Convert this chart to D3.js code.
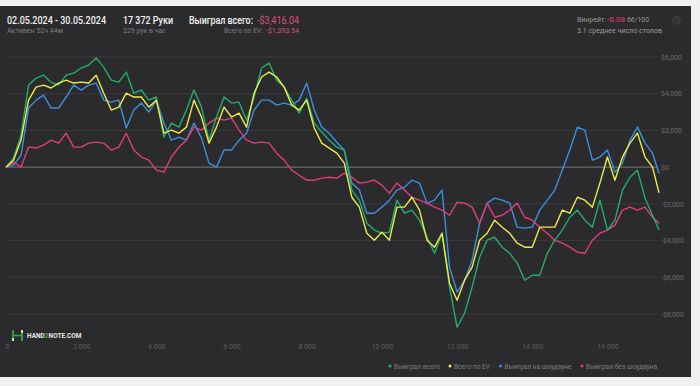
<!DOCTYPE html>
<html>
<head>
<meta charset="utf-8">
<script src="https://cdn.jsdelivr.net/npm/d3@7"></script>
<style>
  html, body { margin: 0; padding: 0; background: #f0f0f2; }
  svg { display: block; font-family: Roboto, "Noto Sans", sans-serif; }
</style>
</head>
<body>
<div id="chart"></div>
<script>
// hands sampled every 200, last point = total hands
const totalHands = 17372;
const hands = d3.range(0, 17201, 200).concat([totalHands]);

// Выиграл всего
const wonTotal = [0,490,1740,4470,4850,5010,4630,4470,5010,5120,
  5400,5560,5940,5450,4740,4630,5180,4030,4200,3650,
  3820,1640,2400,2180,3110,4200,3270,1470,2730,3820,
  3490,3540,2560,3820,5400,5670,4740,4360,3650,2940,
  3760,2400,1910,1470,1090,930,-1250,-1800,-3050,-3430,
  -3600,-3540,-1800,-2510,-2340,-2890,-3820,-4690,-3600,-6540,
  -8720,-7960,-6540,-4910,-3980,-3820,-4360,-4690,-5230,-6160,
  -5890,-5890,-4690,-3980,-3430,-2730,-2340,-2890,-3270,-1800,
  -3430,-2890,-1250,-550,-160,-1690,-2620,-3416];

// Всего по EV
const allInEv = [0,380,1470,3650,4360,4470,4310,4580,4740,4580,
  4630,4580,5010,4030,3110,3270,4030,3820,3820,3270,
  3650,1850,2020,1850,2180,3650,2730,1310,2180,3270,
  2730,2940,2180,4030,4910,5180,4910,4360,3380,3110,
  3650,2130,1310,1040,760,220,-1640,-2180,-3600,-3980,
  -3540,-3980,-2180,-2180,-1640,-2340,-3980,-4360,-3600,-6320,
  -7250,-6160,-5450,-3980,-3600,-2890,-3270,-3600,-4140,-4360,
  -4360,-3270,-3270,-3270,-2340,-2510,-1640,-1800,-2180,-870,
  550,-710,550,1310,1850,550,0,-1394];

// Выиграл на шоудауне
const wonShowdown = [0,110,650,3220,3650,3920,3220,3220,3820,4470,
  4200,4470,4580,3650,3540,3650,2130,3110,3490,3000,
  3650,2400,1470,1640,1470,2400,1580,220,0,930,
  930,1470,1850,3110,3650,3650,3380,3490,3380,3650,
  4580,3110,2180,1850,1360,930,-870,-1250,-2510,-2510,
  -2180,-1800,-1250,-1090,-710,-870,-1960,-1800,-1250,-5450,
  -6810,-6160,-5070,-3050,-1960,-1690,-1800,-1960,-3270,-3320,
  -3270,-2340,-1800,-1250,-160,930,2180,2020,380,550,
  930,-270,220,1470,2180,1310,760,-330];

// Выиграл без шоудауна
const wonNoShowdown = [0,270,0,1090,1040,1200,1470,1310,1850,1090,
  1090,1310,1360,1310,930,1090,1850,930,550,380,
  -160,-270,550,1090,1470,2180,2020,2400,2670,2560,
  2670,2020,1470,1310,1360,1310,760,380,-160,-440,
  -710,-710,-600,-550,-600,-330,-550,-870,-820,-710,
  -980,-1420,-870,-1250,-1640,-1800,-1960,-2180,-2340,-2620,
  -1910,-1960,-2180,-3050,-1960,-2730,-2620,-2340,-1960,-2730,
  -2890,-3270,-3600,-3980,-4140,-4360,-4630,-4690,-3980,-3600,
  -3430,-3160,-2340,-2180,-2340,-2180,-2730,-3050];

const seriesNames = ["Выиграл всего", "Всего по EV", "Выиграл на шоудауне", "Выиграл без шоудауна"];
const seriesColors = ["#23ad6c", "#ecec48", "#3c8fdc", "#dc3f78"];
const seriesValues = [wonTotal, allInEv, wonShowdown, wonNoShowdown];

const yTicks = [6000, 4000, 2000, 0, -2000, -4000, -6000, -8000];
const xTicks = [0, 2000, 4000, 6000, 8000, 10000, 12000, 14000, 16000];

const W = 700, H = 386;
const svg = d3.select("#chart").append("svg").attr("width", W).attr("height", H);

// card
svg.append("rect").attr("x", 0).attr("y", 6).attr("width", 691).attr("height", 371).attr("fill", "#2b2b2d");

let x = d3.scaleLinear().domain([0, totalHands]).range([6, 659]);
let y = d3.scaleLinear().domain([-8000, 6000]).range([314, 57]);

// grid
svg.append("g").selectAll("line").data(yTicks).join("line")
  .attr("x1", 7).attr("x2", 658)
  .attr("y1", d => y(d)).attr("y2", d => y(d))
  .attr("stroke", d => d === 0 ? "#6a6a6c" : "#3c3c3f")
  .attr("stroke-width", d => d === 0 ? 1.2 : 1);

// y axis labels
const fmtMoney = d => (d < 0 ? "-$" : "$") + d3.format(",")(Math.abs(d));
const yAxis = svg.append("g").attr("transform", "translate(657,0)")
  .call(d3.axisRight(y).tickValues(yTicks).tickSize(0).tickPadding(4).tickFormat(fmtMoney));
yAxis.select(".domain").remove();
yAxis.selectAll("text").attr("fill", "#6c6c6e").style("font-size", "7px").style("font-family", "Roboto");

// x axis labels
const xAxis = svg.append("g").attr("transform", "translate(0,344)")
  .call(d3.axisBottom(x).tickValues(xTicks).tickSize(0).tickPadding(0)
    .tickFormat(d => d3.format(",")(d).replace(/,/g, " ")));
xAxis.select(".domain").remove();
xAxis.selectAll("text").attr("fill", "#5e5e60").style("font-size", "7px").style("font-family", "Roboto");
xAxis.selectAll(".tick").filter(d => d === 0).select("text").attr("text-anchor", "start").attr("x", -1);

// lines
const line = d3.line().x((d, i) => x(hands[i])).y(d => y(d));
const drawOrder = [2, 3, 0, 1];
drawOrder.forEach(i => {
  svg.append("path")
    .datum(seriesValues[i])
    .attr("fill", "none")
    .attr("stroke", seriesColors[i])
    .attr("stroke-width", 1.4)
    .attr("stroke-linejoin", "round")
    .attr("d", line);
});

// legend
const legendX = [390, 450, 500.5, 582];
const legendW = [46, 36, 67, 71];
const legend = svg.append("g").attr("transform", "translate(0,366)");
seriesNames.forEach((name, i) => {
  legend.append("circle").attr("cx", legendX[i]).attr("cy", 0).attr("r", 1.5).attr("fill", seriesColors[i]);
  legend.append("text").attr("x", legendX[i] + 4).attr("y", 2.5)
    .attr("fill", "#7e7e80").style("font-size", "7px")
    .attr("textLength", legendW[i]).attr("lengthAdjust", "spacingAndGlyphs").text(name);
});

// header
const hdr = svg.append("g");
const fit = (sel, w) => sel.attr("textLength", w).attr("lengthAdjust", "spacingAndGlyphs");
fit(hdr.append("text").attr("x", 7).attr("y", 23.5).attr("fill", "#f2f2f2")
  .style("font-size", "10px").style("font-weight", 500).text("02.05.2024 - 30.05.2024"), 99);
fit(hdr.append("text").attr("x", 7).attr("y", 33).attr("fill", "#7c7c7e")
  .style("font-size", "7px").text("Активен 52ч 44м"), 56);
fit(hdr.append("text").attr("x", 123).attr("y", 23.5).attr("fill", "#f2f2f2")
  .style("font-size", "10px").style("font-weight", 500).text("17 372 Руки"), 50);
fit(hdr.append("text").attr("x", 123).attr("y", 33).attr("fill", "#7c7c7e")
  .style("font-size", "7px").text("329 рук в час"), 43);
fit(hdr.append("text").attr("x", 189).attr("y", 23.5).attr("fill", "#f2f2f2")
  .style("font-size", "10px").style("font-weight", 500).text("Выиграл всего:"), 64);
fit(hdr.append("text").attr("x", 257).attr("y", 23.5).attr("fill", "#d9507a")
  .style("font-size", "10px").text("-$3,416.04"), 42);
fit(hdr.append("text").attr("x", 224).attr("y", 33).attr("fill", "#7c7c7e")
  .style("font-size", "7px").text("Всего по EV:"), 39);
fit(hdr.append("text").attr("x", 266).attr("y", 33).attr("fill", "#d9507a")
  .style("font-size", "7px").text("-$1,393.54"), 33);
fit(hdr.append("text").attr("x", 577).attr("y", 22).attr("fill", "#9a9a9c")
  .style("font-size", "7px").text("Винрейт:"), 29);
fit(hdr.append("text").attr("x", 607).attr("y", 22).attr("fill", "#e0406f")
  .style("font-size", "7px").text("-0.08"), 18);
fit(hdr.append("text").attr("x", 627).attr("y", 22).attr("fill", "#9a9a9c")
  .style("font-size", "7px").text("66/100"), 22);
fit(hdr.append("text").attr("x", 577).attr("y", 33).attr("fill", "#9a9a9c")
  .style("font-size", "7px").text("3.1 среднее число столов"), 85);

// gear icon
const gear = svg.append("g").attr("transform", "translate(676.5,20.5)");
gear.append("circle").attr("r", 3.6).attr("fill", "none").attr("stroke", "#4a4a4c").attr("stroke-width", 1.6)
  .attr("stroke-dasharray", "1.4 1");
gear.append("circle").attr("r", 1.3).attr("fill", "none").attr("stroke", "#4a4a4c").attr("stroke-width", 0.8);

// logo
const logo = svg.append("g").attr("transform", "translate(12,330)");
logo.append("line").attr("x1", 1).attr("y1", 0).attr("x2", 1).attr("y2", 11).attr("stroke", "#3aa24a").attr("stroke-width", 1.8);
logo.append("line").attr("x1", 10).attr("y1", 0).attr("x2", 10).attr("y2", 11).attr("stroke", "#3aa24a").attr("stroke-width", 1.8);
logo.append("line").attr("x1", 1).attr("y1", 5.5).attr("x2", 10).attr("y2", 5.5).attr("stroke", "#3aa24a").attr("stroke-width", 1.6);
logo.append("line").attr("x1", 1).attr("y1", 8).attr("x2", 1).attr("y2", 11).attr("stroke", "#e8e8e8").attr("stroke-width", 1.8);
logo.append("line").attr("x1", 10).attr("y1", 0).attr("x2", 10).attr("y2", 3).attr("stroke", "#e8e8e8").attr("stroke-width", 1.8);
const lt = logo.append("text").attr("x", 15).attr("y", 8).style("font-size", "6.5px").style("font-weight", 700);
lt.append("tspan").attr("fill", "#e8e8e8").text("HAND");
lt.append("tspan").attr("fill", "#3aa24a").text("2");
lt.append("tspan").attr("fill", "#e8e8e8").text("NOTE.COM");
</script>
</body>
</html>
